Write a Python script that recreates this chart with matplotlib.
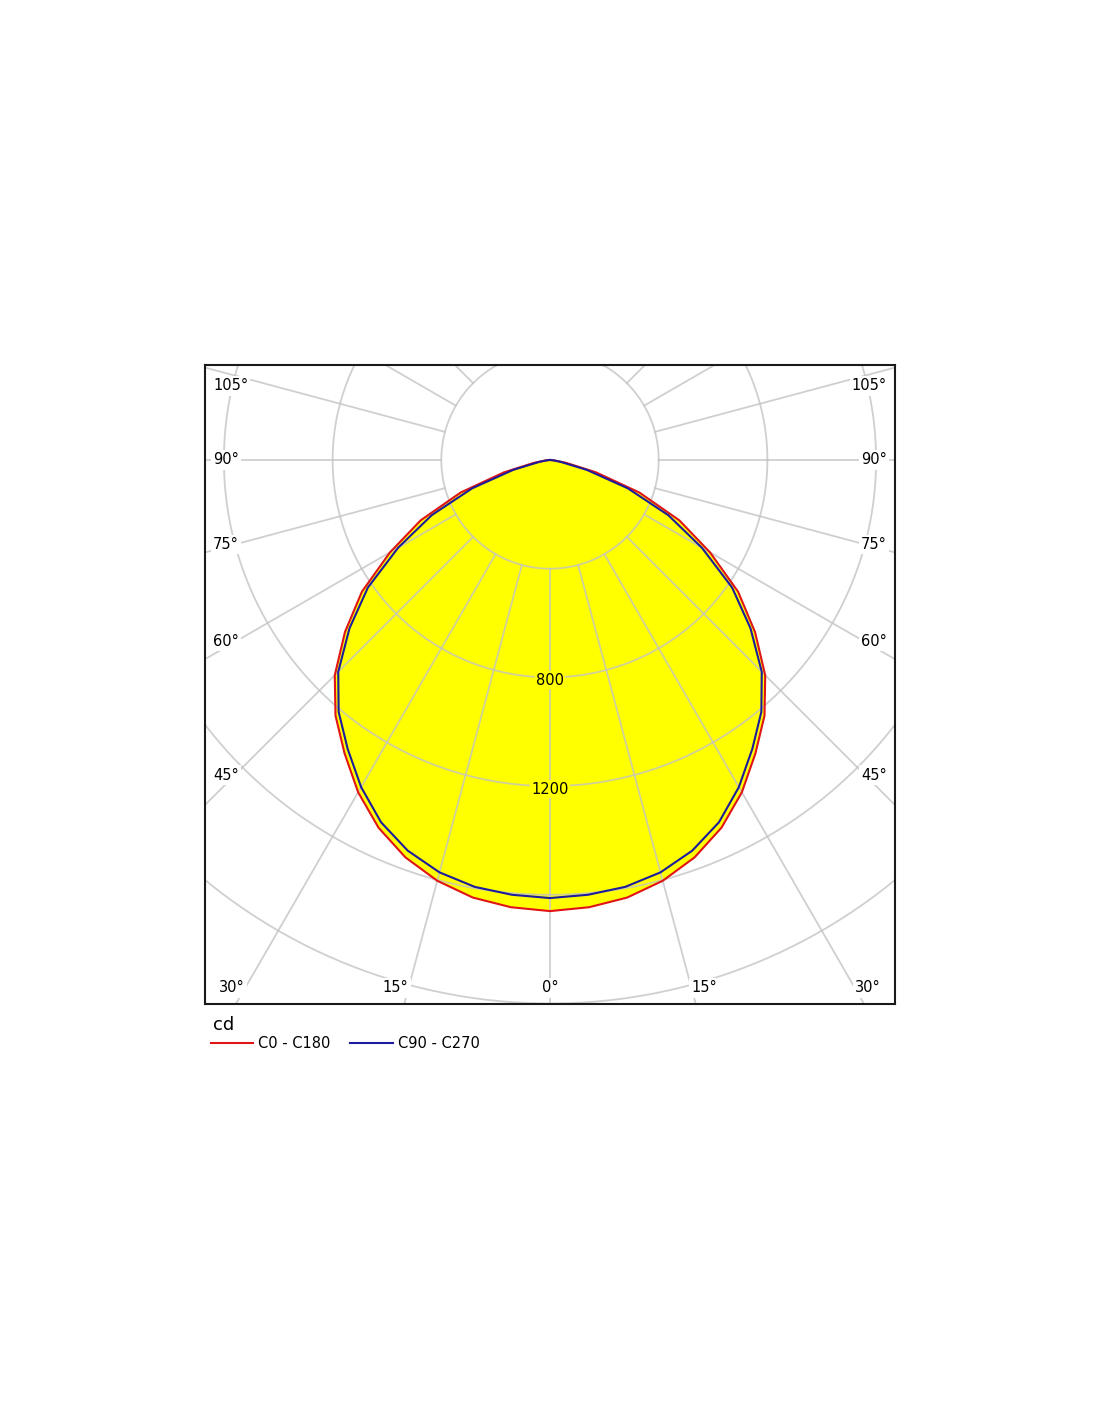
import numpy as np
import matplotlib
matplotlib.use('Agg')
import matplotlib.pyplot as plt

# luminous intensity in cd, every 5 deg from nadir (0) to horizontal (90)
gamma = np.arange(0, 95, 5)
c0_c180 = [1660, 1652, 1635, 1603, 1556, 1493, 1412, 1318, 1228, 1120,
           985, 845, 680, 525, 350, 175, 60, 15, 0]
c90_c270 = [1612, 1606, 1595, 1571, 1530, 1471, 1390, 1298, 1210, 1102,
            963, 818, 645, 480, 305, 140, 40, 10, 0]
series_names = ['C0 - C180', 'C90 - C270']

rings = [400, 800, 1200, 1600, 2000]
ring_labels = [800, 1200]
spoke_step = 15
labelled_angles = [0, 15, 30, 45, 60, 75, 90, 105]

red = '#e01414'
blue = '#1c1c9c'
grid_col = '#c4c4c4'

fig = plt.figure(figsize=(11, 14.22), dpi=100)
ax = fig.add_axes([205 / 1100, 1 - 1004 / 1422, 690 / 1100, 639 / 1422])
px = 400 / 108.7  # cd per pixel
half_w = 345 * px
ybot, ytop = -544 * px, 95 * px
ax.set_xlim(-half_w, half_w)
ax.set_ylim(ybot, ytop)
ax.set_xticks([])
ax.set_yticks([])
for s in ax.spines.values():
    s.set_linewidth(1.5)
    s.set_color('#1a1a1a')


def outline(vals):
    v = np.asarray(vals, float)
    full = np.concatenate([v[::-1], v[1:]])
    g = np.radians(np.concatenate([-gamma[::-1], gamma[1:]]))
    return full * np.sin(g), -full * np.cos(g)


xr, yr = outline(c0_c180)
xb, yb = outline(c90_c270)

ax.fill(xr, yr, color='#ffff00', lw=0, zorder=1)

# polar grid
t = np.linspace(0, 2 * np.pi, 500)
for r in rings:
    ax.plot(r * np.cos(t), r * np.sin(t), color=grid_col, lw=1.3, alpha=0.8, zorder=2)
for a in np.arange(0, 360, spoke_step):
    rad = np.radians(a)
    ax.plot([rings[0] * np.sin(rad), 5000 * np.sin(rad)],
            [-rings[0] * np.cos(rad), -5000 * np.cos(rad)],
            color=grid_col, lw=1.3, alpha=0.8, zorder=2)

h1, = ax.plot(xr, yr, color=red, lw=1.5, zorder=3, label=series_names[0])
h2, = ax.plot(xb, yb, color=blue, lw=1.5, zorder=3, label=series_names[1])

for v in ring_labels:
    ax.text(0, -v - 3 * px, str(v), ha='center', va='center', fontsize=10.5, zorder=4,
            bbox=dict(fc='#ffff00', ec='none', pad=1))

# angle labels where the spokes meet the frame
for ang in labelled_angles:
    for side in ([-1, 1] if ang else [1]):
        rad = np.radians(ang)
        dx, dy = side * np.sin(rad), -np.cos(rad)
        t_side = half_w / abs(dx) if abs(dx) > 1e-9 else np.inf
        t_bot = ybot / dy if dy < 0 else np.inf
        if t_bot < t_side:
            yl = ybot + 16 * px
            xl = dx * yl / dy
            ha = 'center' if ang == 0 else ('right' if side < 0 else 'left')
        else:
            xe = side * (half_w - 30 * px)
            yl = min(dy * xe / dx, ytop - 21 * px)
            xl = side * (half_w - 8 * px)
            ha = 'left' if side < 0 else 'right'
        ax.text(xl, yl, f'{ang}°', ha=ha, va='center', fontsize=10.5, zorder=4,
                bbox=dict(fc='white', ec='none', pad=1.5))

fig.text(213 / 1100, 1 - 1025 / 1422, 'cd', fontsize=13, ha='left', va='center')
fig.legend(handles=[h1, h2], loc='center left',
           bbox_to_anchor=(211 / 1100, 1 - 1044 / 1422), ncol=2, frameon=False,
           fontsize=10.5, handlelength=2.9, handletextpad=0.35,
           columnspacing=1.35, borderpad=0, borderaxespad=0)

fig.savefig('out.png', dpi=100, facecolor='white')
